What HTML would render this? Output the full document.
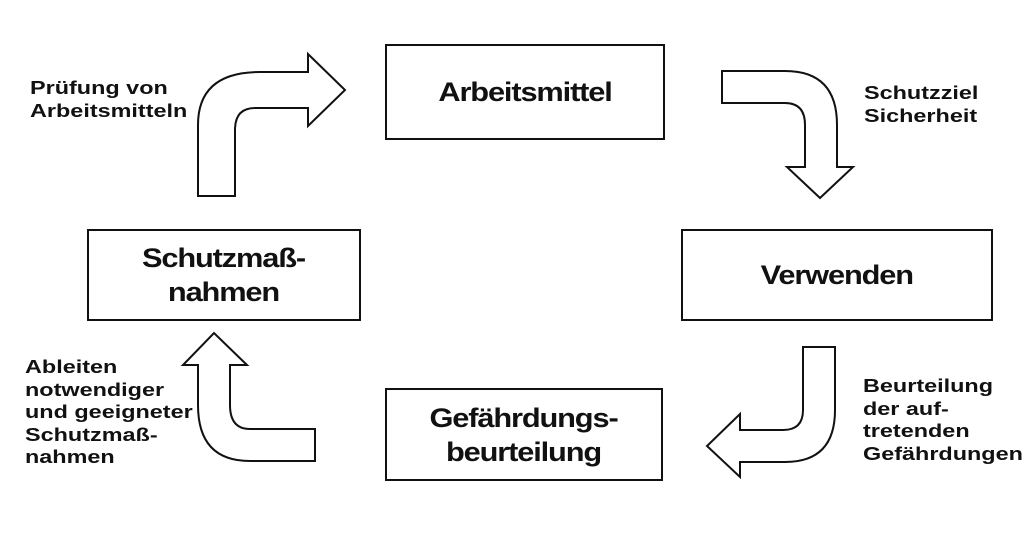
<!DOCTYPE html>
<html><head><meta charset="utf-8"><style>
html,body{margin:0;padding:0;background:#fff;}
body{width:1024px;height:537px;position:relative;overflow:hidden;font-family:"Liberation Sans",Arial,sans-serif;font-weight:bold;color:#111;}
.box{position:absolute;border:2px solid #111;box-sizing:border-box;display:flex;align-items:center;justify-content:center;text-align:center;font-size:27px;letter-spacing:-1px;line-height:34px;}
.box span{display:inline-block;transform:scaleX(1.14);}
.lbl{position:absolute;font-size:18px;line-height:22.5px;transform:scaleX(1.3);transform-origin:0 0;white-space:nowrap;}
</style></head><body>
<svg width="1024" height="537" style="position:absolute;left:0;top:0" fill="#fff" stroke="#111" stroke-width="2" stroke-linejoin="miter">
<path d="M198,196 L198,125 Q198,72 260,72 L308,72 L308,54 L345,90 L308,126 L308,108 L255,108 Q235,108 235,130 L235,196 Z"/>
<path d="M722,71 L785,71 Q837,71 837,125 L837,167 L853,167 L820,198 L787,167 L805,167 L805,125 Q805,103 785,103 L722,103 Z"/>
<path d="M835,347 L835,410 Q835,462 785,462 L740,462 L740,477 L707,446 L740,414 L740,430 L783,430 Q803,430 803,410 L803,347 Z"/>
<path d="M315,429 L250,429 Q230,429 230,405 L230,365 L247,365 L214,333 L183,365 L198,365 L198,405 Q198,461 250,461 L315,461 Z"/>
</svg>
<div class="box" style="left:385px;top:44px;width:280px;height:96px;"><span>Arbeitsmittel</span></div>
<div class="box" style="left:681px;top:229px;width:312px;height:92px;"><span>Verwenden</span></div>
<div class="box" style="left:87px;top:229px;width:274px;height:92px;"><span>Schutzmaß-<br>nahmen</span></div>
<div class="box" style="left:385px;top:388px;width:278px;height:93px;"><span>Gefährdungs-<br>beurteilung</span></div>
<div class="lbl" style="left:30px;top:77px;">Prüfung von<br>Arbeitsmitteln</div>
<div class="lbl" style="left:864px;top:82px;">Schutzziel<br>Sicherheit</div>
<div class="lbl" style="left:863px;top:375px;">Beurteilung<br>der auf-<br>tretenden<br>Gefährdungen</div>
<div class="lbl" style="left:25px;top:356px;">Ableiten<br>notwendiger<br>und geeigneter<br>Schutzmaß-<br>nahmen</div>
</body></html>
